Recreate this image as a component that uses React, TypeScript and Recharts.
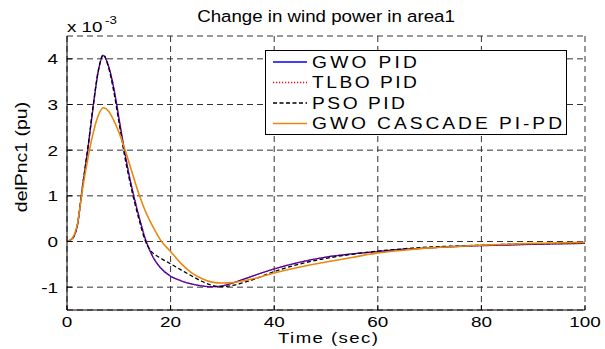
import { CartesianGrid, Legend, Line, LineChart, XAxis, YAxis } from "recharts";

// simulation time (sec) and per-controller response, in units of 1e-3 pu
const time = [0, 1, 2, 3, 4, 5, 6, 7, 8, 9, 10, 11, 12, 13, 14, 15, 16, 17, 18, 20, 22, 24, 26, 28, 30, 32, 35, 40, 45, 50, 55, 60, 65, 70, 75, 80, 85, 90, 95, 100];
const gwoPid = [0, 0.06, 0.35, 1.2, 2.0, 2.9, 3.7, 4.07, 3.85, 3.38, 2.72, 2.05, 1.45, 0.95, 0.5, 0.1, -0.2, -0.42, -0.57, -0.76, -0.86, -0.93, -0.97, -0.99, -0.97, -0.91, -0.79, -0.6, -0.45, -0.34, -0.27, -0.22, -0.17, -0.14, -0.11, -0.09, -0.08, -0.06, -0.05, -0.04];
const tlboPid = [0, 0.06, 0.36, 1.21, 2.01, 2.91, 3.71, 4.08, 3.86, 3.39, 2.73, 2.06, 1.46, 0.96, 0.51, 0.11, -0.19, -0.41, -0.57, -0.76, -0.86, -0.93, -0.97, -0.99, -0.97, -0.91, -0.79, -0.6, -0.45, -0.34, -0.27, -0.22, -0.17, -0.14, -0.11, -0.09, -0.08, -0.06, -0.05, -0.04];
const psoPid = [0, 0.06, 0.36, 1.22, 2.03, 2.93, 3.72, 4.09, 3.82, 3.3, 2.63, 1.95, 1.38, 0.88, 0.44, 0.05, -0.18, -0.29, -0.36, -0.49, -0.62, -0.75, -0.87, -0.96, -0.99, -0.96, -0.87, -0.66, -0.49, -0.37, -0.28, -0.21, -0.16, -0.12, -0.1, -0.08, -0.06, -0.05, -0.04, -0.03];
const gwoCascade = [0, 0.07, 0.38, 1.15, 1.8, 2.35, 2.75, 2.93, 2.86, 2.66, 2.4, 2.08, 1.72, 1.35, 1.0, 0.7, 0.45, 0.24, 0.04, -0.22, -0.48, -0.68, -0.81, -0.89, -0.91, -0.9, -0.84, -0.69, -0.56, -0.45, -0.35, -0.25, -0.19, -0.14, -0.11, -0.08, -0.06, -0.04, -0.03, -0.02];

const xTicks = [0, 20, 40, 60, 80, 100];
const yTicks = [-1, 0, 1, 2, 3, 4];

const FONT = "'Liberation Sans', Arial, sans-serif";

const series = [
  { key: "gwoPid", name: "GWO PID", color: "#0000ff", dash: undefined, width: 1.3, labelWidth: 105 },
  { key: "tlboPid", name: "TLBO PID", color: "#ff0000", dash: "1.2 1.8", width: 1.3, labelWidth: 105 },
  { key: "psoPid", name: "PSO PID", color: "#000000", dash: "4 2.5", width: 1.3, labelWidth: 93 },
  { key: "gwoCascade", name: "GWO CASCADE PI-PD", color: "#e8890f", dash: undefined, width: 1.6, labelWidth: 250 },
];

const rows = time.map((t, i) => ({
  t,
  gwoPid: gwoPid[i],
  tlboPid: tlboPid[i],
  psoPid: psoPid[i],
  gwoCascade: gwoCascade[i],
}));

// text stretched horizontally like the old figure export fonts
function WideText({ x, y, size, anchor = "start", sx = 1.22, rotate = 0, length, children }: any) {
  return (
    <g transform={`translate(${x},${y}) rotate(${rotate}) scale(${sx},1)`}>
      <text
        x={0}
        y={0}
        fontSize={size}
        fontFamily={FONT}
        textAnchor={anchor}
        fill="#000"
        textLength={length ? length / sx : undefined}
        lengthAdjust="spacing"
      >
        {children}
      </text>
    </g>
  );
}

const XTick = (props: any) => (
  <WideText x={props.x} y={props.y + 17} size={15.5} anchor="middle">
    {String(props.payload.value)}
  </WideText>
);

const YTick = (props: any) => (
  <WideText x={props.x - 9} y={props.y + 5.5} size={15.5} anchor="end">
    {String(props.payload.value)}
  </WideText>
);

const NoTick = () => <g />;

// legend rows keep the plotting order, not the payload's sorted order
function renderLegend(props: any) {
  const items = props.payload ?? [];
  return (
    <svg width={302} height={85} style={{ display: "block" }}>
      <rect x={0.5} y={0.5} width={301} height={84} fill="#fff" stroke="#000" />
      {series.map((s, i) => {
        const item = items.find((p: any) => p.dataKey === s.key);
        const cy = 12 + i * 20.5;
        return (
          <g key={s.key}>
            <line x1={8} x2={42} y1={cy} y2={cy} stroke={item?.color ?? s.color} strokeWidth={s.width} strokeDasharray={s.dash} />
            <WideText x={47} y={cy + 5.8} size={16} sx={1.2} length={s.labelWidth}>
              {item?.value ?? s.name}
            </WideText>
          </g>
        );
      })}
    </svg>
  );
}

export default function App() {
  const axisStroke = { stroke: "#000" };
  return (
    <div style={{ position: "absolute", left: 0, top: 0, width: 605, height: 349, background: "#fff" }}>
      <LineChart width={605} height={349} data={rows} margin={{ top: 36, right: 20, bottom: 9, left: 27 }}>
        <CartesianGrid stroke="#333" strokeDasharray="6 4" />
        <XAxis
          dataKey="t"
          type="number"
          domain={[0, 100]}
          ticks={xTicks}
          allowDataOverflow
          height={30}
          axisLine={axisStroke}
          tickLine={axisStroke}
          tickSize={-5}
          tickMargin={5}
          tick={XTick}
        />
        <XAxis
          xAxisId="top"
          orientation="top"
          type="number"
          domain={[0, 100]}
          ticks={xTicks}
          allowDataOverflow
          height={0}
          axisLine={axisStroke}
          tickLine={axisStroke}
          tickSize={-5}
          tick={NoTick}
        />
        <YAxis
          type="number"
          domain={[-1.5, 4.5]}
          ticks={yTicks}
          allowDataOverflow
          width={40}
          axisLine={axisStroke}
          tickLine={axisStroke}
          tickSize={-5}
          tickMargin={5}
          tick={YTick}
        />
        <YAxis
          yAxisId="right"
          orientation="right"
          type="number"
          domain={[-1.5, 4.5]}
          ticks={yTicks}
          allowDataOverflow
          width={0}
          axisLine={axisStroke}
          tickLine={axisStroke}
          tickSize={-5}
          tick={NoTick}
        />
        {series.map((s) => (
          <Line
            key={s.key}
            type="monotone"
            dataKey={s.key}
            name={s.name}
            stroke={s.color}
            strokeWidth={s.width}
            strokeDasharray={s.dash}
            dot={false}
            isAnimationActive={false}
          />
        ))}
        <Legend
          layout="horizontal"
          verticalAlign="middle"
          align="center"
          content={renderLegend}
          wrapperStyle={{ position: "absolute", left: 265, top: 50, width: 302, height: 85 }}
        />
      </LineChart>
      <svg width={605} height={349} style={{ position: "absolute", left: 0, top: 0, pointerEvents: "none" }}>
        <WideText x={326} y={22} size={17} anchor="middle" sx={1.1}>
          Change in wind power in area1
        </WideText>
        <WideText x={67} y={31.5} size={15} sx={1.25}>
          x 10
        </WideText>
        <WideText x={105} y={24} size={11} sx={1.2}>
          -3
        </WideText>
        <WideText x={328} y={343} size={15.5} anchor="middle" sx={1.2} length={100}>
          Time (sec)
        </WideText>
        <WideText x={26.5} y={157} size={16.5} anchor="middle" sx={1.18} rotate={-90}>
          delPnc1 (pu)
        </WideText>
      </svg>
    </div>
  );
}
